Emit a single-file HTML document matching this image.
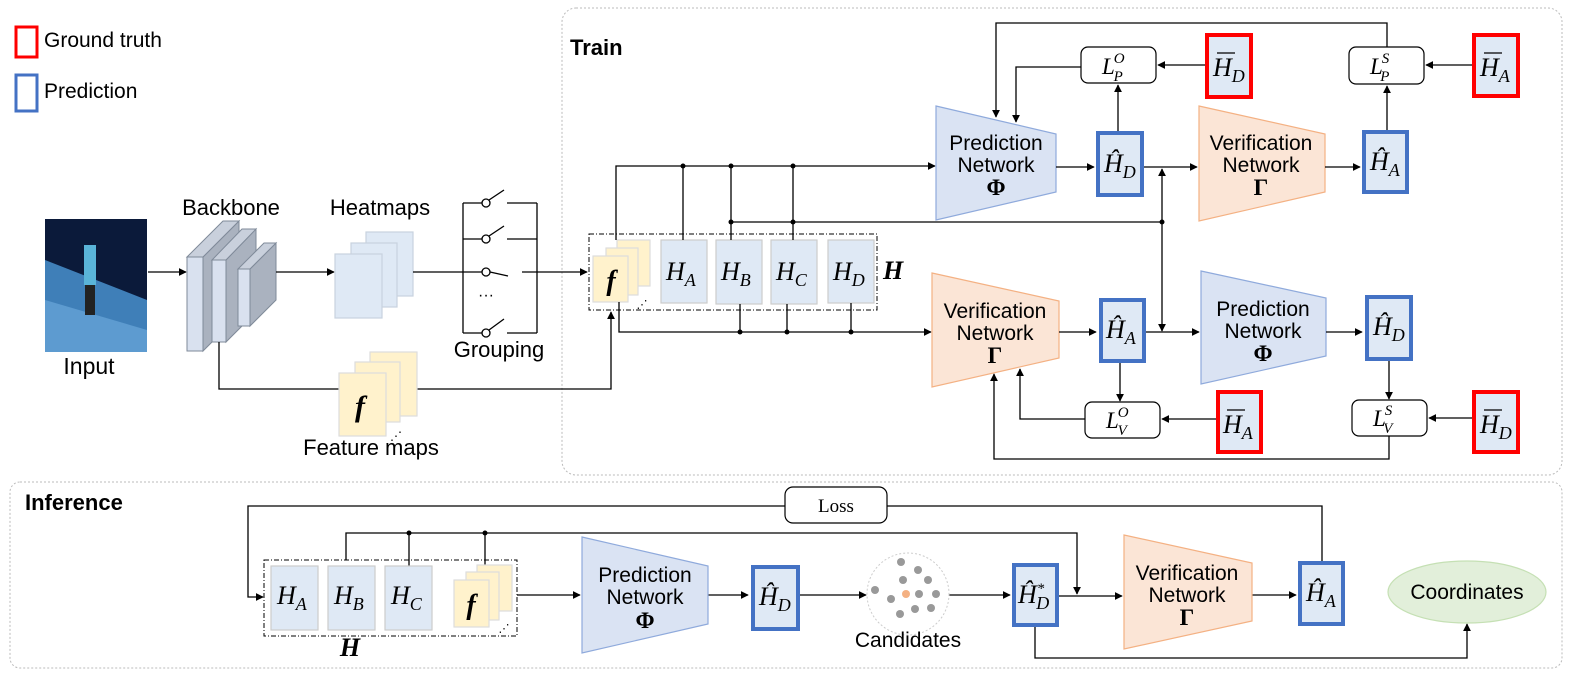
<!DOCTYPE html>
<html><head><meta charset="utf-8"><style>
html,body{margin:0;padding:0;background:#fff;}
svg{display:block;}
.s{font-family:"Liberation Sans",sans-serif;}
.m{font-family:"Liberation Serif",serif;font-style:italic;}
</style></head><body>
<svg width="1577" height="680" viewBox="0 0 1577 680" xmlns="http://www.w3.org/2000/svg">
<defs>
<marker id="a" viewBox="0 0 10 10" refX="9" refY="5" markerWidth="8" markerHeight="8" orient="auto-start-reverse" markerUnits="userSpaceOnUse"><path d="M0,0L10,5L0,10z" fill="#000"/></marker>
</defs>
<g fill="none" stroke="#000" stroke-width="1.3">
<rect x="562" y="8" width="1000" height="467" rx="14" stroke="#bbb" stroke-dasharray="2,2" stroke-width="1"/>
<rect x="10" y="482" width="1552" height="186" rx="10" stroke="#bbb" stroke-dasharray="2,2" stroke-width="1"/>
</g>
<rect x="16" y="27" width="21" height="30" fill="none" stroke="#f00" stroke-width="3"/>
<text x="44" y="47" class="s" font-size="21">Ground truth</text>
<rect x="16" y="75" width="21" height="36" fill="none" stroke="#4472c4" stroke-width="3"/>
<text x="44" y="98" class="s" font-size="21">Prediction</text>

<rect x="45" y="219" width="102" height="133" fill="#0b1a3a"/>
<polygon points="45,260 147,300 147,352 45,352" fill="#3f7fb8"/>
<polygon points="45,300 147,330 147,352 45,352" fill="#5d9bd0"/>
<rect x="84" y="245" width="12" height="40" fill="#5ab4d8"/>
<rect x="85" y="285" width="10" height="30" fill="#222"/>
<text x="89" y="374" class="s" font-size="23" text-anchor="middle">Input</text>
<line x1="148" y1="272" x2="186" y2="272" stroke="#000" stroke-width="1.3" marker-end="url(#a)"/>

<g stroke="#7f8a99" stroke-width="1">
<polygon points="203,257 239,221 239,315 203,351" fill="#aab2bf"/>
<polygon points="187,257 223,221 239,221 203,257" fill="#c9d0dc"/>
<rect x="187" y="257" width="16" height="94" fill="#d9e1ef"/>
<polygon points="226,260 256,229 256,312 226,342" fill="#aab2bf"/>
<polygon points="212,260 242,229 256,229 226,260" fill="#c9d0dc"/>
<rect x="212" y="260" width="14" height="82" fill="#d9e1ef"/>
<polygon points="250,269 276,243 276,300 250,326" fill="#aab2bf"/>
<polygon points="238,269 264,243 276,243 250,269" fill="#c9d0dc"/>
<rect x="238" y="269" width="12" height="57" fill="#d9e1ef"/>
</g>
<text x="231" y="215" class="s" font-size="22" text-anchor="middle">Backbone</text>
<line x1="276" y1="272" x2="334" y2="272" stroke="#000" stroke-width="1.3" marker-end="url(#a)"/>

<g stroke="#c8d2de" stroke-width="1.2" fill="#dfe9f5">
<rect x="366" y="232" width="47" height="64"/>
<rect x="351" y="243" width="46" height="64"/>
<rect x="335" y="254" width="47" height="64"/>
</g>
<text x="380" y="215" class="s" font-size="22" text-anchor="middle">Heatmaps</text>

<g stroke="#000" stroke-width="1.3" fill="none">
<line x1="413" y1="272" x2="463" y2="272"/>
<line x1="463" y1="203" x2="463" y2="333"/>
<line x1="537" y1="203" x2="537" y2="333"/>
<line x1="463" y1="203" x2="482" y2="203"/><line x1="507" y1="203" x2="537" y2="203"/>
<line x1="463" y1="239" x2="482" y2="239"/><line x1="507" y1="239" x2="537" y2="239"/>
<line x1="463" y1="272" x2="482" y2="272"/>
<line x1="463" y1="333" x2="482" y2="333"/><line x1="507" y1="333" x2="537" y2="333"/>
<circle cx="486" cy="203" r="4" fill="#fff"/><line x1="489" y1="200" x2="504" y2="190"/>
<circle cx="486" cy="239" r="4" fill="#fff"/><line x1="489" y1="236" x2="504" y2="226"/>
<circle cx="486" cy="272" r="4" fill="#fff"/><line x1="490" y1="272" x2="508" y2="276"/>
<circle cx="486" cy="333" r="4" fill="#fff"/><line x1="489" y1="330" x2="504" y2="319"/>
<line x1="522" y1="272" x2="587" y2="272" marker-end="url(#a)"/>
</g>
<text x="486" y="300" class="s" font-size="16" text-anchor="middle">···</text>
<text x="499" y="357" class="s" font-size="22" text-anchor="middle">Grouping</text>

<polyline points="219,342 219,389 339,389" fill="none" stroke="#000" stroke-width="1.3"/>
<polyline points="417,389 611,389 611,312" fill="none" stroke="#000" stroke-width="1.3" marker-end="url(#a)"/>
<g stroke="#ddd" stroke-width="1.2" fill="#fff2cc">
<rect x="370" y="352" width="47" height="64"/>
<rect x="355" y="362" width="45" height="60"/>
<rect x="339" y="373" width="47" height="63"/>
</g>
<text x="360" y="416" font-family="Liberation Serif,serif" font-style="italic" font-weight="bold" font-size="30" text-anchor="middle">f</text>
<text x="396" y="440" font-size="12" text-anchor="middle">⋰</text>
<text x="371" y="455" class="s" font-size="22" text-anchor="middle">Feature maps</text>

<text x="570" y="55" class="s" font-size="22" font-weight="bold">Train</text>
<rect x="589" y="234" width="288" height="76" fill="none" stroke="#000" stroke-width="1" stroke-dasharray="5,2,1,2"/>
<g stroke="#ddd" stroke-width="1.2" fill="#fff2cc">
<rect x="617" y="240" width="33" height="46"/>
<rect x="606" y="248" width="32" height="47"/>
<rect x="593" y="256" width="35" height="46"/>
</g>
<text x="611" y="290" font-family="Liberation Serif,serif" font-style="italic" font-weight="bold" font-size="28" text-anchor="middle">f</text>
<text x="642" y="308" font-size="11" text-anchor="middle">⋰</text>
<g stroke="#ccc" stroke-width="1.2" fill="#dfe9f5">
<rect x="661" y="240" width="46" height="63"/>
<rect x="716" y="240" width="46" height="64"/>
<rect x="771" y="240" width="46" height="64"/>
<rect x="828" y="240" width="46" height="63"/>
</g>
<g class="m" font-size="26">
<text x="666" y="280">H<tspan font-size="18" dy="6">A</tspan></text>
<text x="721" y="280">H<tspan font-size="18" dy="6">B</tspan></text>
<text x="776" y="280">H<tspan font-size="18" dy="6">C</tspan></text>
<text x="833" y="280">H<tspan font-size="18" dy="6">D</tspan></text>
</g>
<text x="883" y="279" font-family="Liberation Serif,serif" font-style="italic" font-weight="bold" font-size="26">H</text>

<g stroke="#000" stroke-width="1.3" fill="none">
<polyline points="616,240 616,166 935,166" marker-end="url(#a)"/>
<line x1="683" y1="166" x2="683" y2="240"/>
<line x1="731" y1="166" x2="731" y2="240"/>
<line x1="793" y1="166" x2="793" y2="240"/>
<line x1="731" y1="222" x2="1162" y2="222"/>
<line x1="1162" y1="222" x2="1162" y2="169" marker-end="url(#a)"/>
<line x1="1162" y1="222" x2="1162" y2="331" marker-end="url(#a)"/>
<polyline points="619,302 619,332 931,332" marker-end="url(#a)"/>
<line x1="740" y1="304" x2="740" y2="332"/>
<line x1="787" y1="304" x2="787" y2="332"/>
<line x1="851" y1="303" x2="851" y2="332"/>
</g>
<g fill="#000">
<circle cx="683" cy="166" r="2.5"/><circle cx="731" cy="166" r="2.5"/><circle cx="793" cy="166" r="2.5"/>
<circle cx="731" cy="222" r="2.5"/><circle cx="793" cy="222" r="2.5"/><circle cx="1162" cy="222" r="2.5"/>
<circle cx="740" cy="332" r="2.5"/><circle cx="787" cy="332" r="2.5"/><circle cx="851" cy="332" r="2.5"/>
</g>

<polygon points="936,106 1056,134 1056,192 936,220" fill="#dae3f3" stroke="#8faadc" stroke-width="1.2"/>
<text class="s" font-size="21" text-anchor="middle"><tspan x="996" y="150">Prediction</tspan><tspan x="996" y="172">Network</tspan></text>
<text x="996" y="195" font-family="Liberation Serif,serif" font-weight="bold" font-size="23" text-anchor="middle">Φ</text>
<polygon points="1199,106 1325,134 1325,192 1199,221" fill="#fbe5d6" stroke="#f4b183" stroke-width="1.2"/>
<text class="s" font-size="21" text-anchor="middle"><tspan x="1261" y="150">Verification</tspan><tspan x="1261" y="172">Network</tspan></text>
<text x="1261" y="195" font-family="Liberation Serif,serif" font-weight="bold" font-size="23" text-anchor="middle">Γ</text>

<g stroke="#000" stroke-width="1.3" fill="none">
<line x1="1056" y1="167" x2="1094" y2="167" marker-end="url(#a)"/>
<line x1="1144" y1="167" x2="1197" y2="167" marker-end="url(#a)"/>
<line x1="1325" y1="167" x2="1360" y2="167" marker-end="url(#a)"/>
<line x1="1205" y1="65" x2="1158" y2="65" marker-end="url(#a)"/>
<line x1="1118" y1="131" x2="1118" y2="85" marker-end="url(#a)"/>
<polyline points="1081,67 1016,67 1016,122" marker-end="url(#a)"/>
<polyline points="1387,47 1387,23 996,23 996,117" marker-end="url(#a)"/>
<line x1="1472" y1="65" x2="1426" y2="65" marker-end="url(#a)"/>
<line x1="1387" y1="130" x2="1387" y2="86" marker-end="url(#a)"/>
</g>
<rect x="1081" y="47" width="75" height="36" rx="7" fill="#fff" stroke="#000" stroke-width="1.2"/>
<text x="1102" y="74" class="m" font-size="23">L<tspan font-size="15" dx="-1" dy="-11">O</tspan><tspan font-size="15" dx="-11" dy="18">P</tspan></text>
<rect x="1349" y="47" width="75" height="37" rx="7" fill="#fff" stroke="#000" stroke-width="1.2"/>
<text x="1370" y="74" class="m" font-size="23">L<tspan font-size="15" dx="-1" dy="-11">S</tspan><tspan font-size="15" dx="-9" dy="18">P</tspan></text>

<rect x="1098" y="133" width="44" height="62" fill="#dfe9f5" stroke="#4472c4" stroke-width="4"/>
<text x="1104" y="172" class="m" font-size="26">Ĥ<tspan font-size="18" dy="6">D</tspan></text>
<rect x="1364" y="132" width="43" height="60" fill="#dfe9f5" stroke="#4472c4" stroke-width="4"/>
<text x="1370" y="170" class="m" font-size="26">Ĥ<tspan font-size="18" dy="6">A</tspan></text>
<rect x="1207" y="35" width="44" height="62" fill="#dfe9f5" stroke="#f00" stroke-width="4"/>
<line x1="1217" y1="53" x2="1235" y2="53" stroke="#000" stroke-width="1.2"/>
<text x="1213" y="76" class="m" font-size="26">H<tspan font-size="18" dy="6">D</tspan></text>
<rect x="1474" y="35" width="44" height="61" fill="#dfe9f5" stroke="#f00" stroke-width="4"/>
<line x1="1484" y1="53" x2="1502" y2="53" stroke="#000" stroke-width="1.2"/>
<text x="1480" y="76" class="m" font-size="26">H<tspan font-size="18" dy="6">A</tspan></text>

<polygon points="932,273 1059,301 1059,358 932,387" fill="#fbe5d6" stroke="#f4b183" stroke-width="1.2"/>
<text class="s" font-size="21" text-anchor="middle"><tspan x="995" y="318">Verification</tspan><tspan x="995" y="340">Network</tspan></text>
<text x="995" y="363" font-family="Liberation Serif,serif" font-weight="bold" font-size="23" text-anchor="middle">Γ</text>
<polygon points="1201,271 1326,298 1326,356 1201,384" fill="#dae3f3" stroke="#8faadc" stroke-width="1.2"/>
<text class="s" font-size="21" text-anchor="middle"><tspan x="1263" y="316">Prediction</tspan><tspan x="1263" y="338">Network</tspan></text>
<text x="1263" y="361" font-family="Liberation Serif,serif" font-weight="bold" font-size="23" text-anchor="middle">Φ</text>
<g stroke="#000" stroke-width="1.3" fill="none">
<line x1="1059" y1="332" x2="1096" y2="332" marker-end="url(#a)"/>
<line x1="1146" y1="332" x2="1199" y2="332" marker-end="url(#a)"/>
<line x1="1326" y1="332" x2="1362" y2="332" marker-end="url(#a)"/>
<line x1="1120" y1="363" x2="1120" y2="401" marker-end="url(#a)"/>
<line x1="1216" y1="419" x2="1162" y2="419" marker-end="url(#a)"/>
<polyline points="1085,419 1020,419 1020,369" marker-end="url(#a)"/>
<line x1="1389" y1="361" x2="1389" y2="399" marker-end="url(#a)"/>
<line x1="1472" y1="418" x2="1429" y2="418" marker-end="url(#a)"/>
<polyline points="1389,436 1389,459 994,459 994,374" marker-end="url(#a)"/>
</g>
<rect x="1085" y="402" width="75" height="36" rx="7" fill="#fff" stroke="#000" stroke-width="1.2"/>
<text x="1106" y="428" class="m" font-size="23">L<tspan font-size="15" dx="-1" dy="-11">O</tspan><tspan font-size="15" dx="-11" dy="18">V</tspan></text>
<rect x="1352" y="400" width="75" height="36" rx="7" fill="#fff" stroke="#000" stroke-width="1.2"/>
<text x="1373" y="426" class="m" font-size="23">L<tspan font-size="15" dx="-1" dy="-11">S</tspan><tspan font-size="15" dx="-9" dy="18">V</tspan></text>
<rect x="1101" y="300" width="43" height="61" fill="#dfe9f5" stroke="#4472c4" stroke-width="4"/>
<text x="1106" y="338" class="m" font-size="26">Ĥ<tspan font-size="18" dy="6">A</tspan></text>
<rect x="1367" y="297" width="44" height="62" fill="#dfe9f5" stroke="#4472c4" stroke-width="4"/>
<text x="1373" y="335" class="m" font-size="26">Ĥ<tspan font-size="18" dy="6">D</tspan></text>
<rect x="1218" y="392" width="43" height="60" fill="#dfe9f5" stroke="#f00" stroke-width="4"/>
<line x1="1227" y1="410" x2="1245" y2="410" stroke="#000" stroke-width="1.2"/>
<text x="1223" y="433" class="m" font-size="26">H<tspan font-size="18" dy="6">A</tspan></text>
<rect x="1474" y="392" width="44" height="60" fill="#dfe9f5" stroke="#f00" stroke-width="4"/>
<line x1="1484" y1="410" x2="1502" y2="410" stroke="#000" stroke-width="1.2"/>
<text x="1480" y="433" class="m" font-size="26">H<tspan font-size="18" dy="6">D</tspan></text>

<text x="25" y="510" class="s" font-size="22" font-weight="bold">Inference</text>
<g stroke="#000" stroke-width="1.3" fill="none">
<polyline points="785,506 248,506 248,597 263,597" marker-end="url(#a)"/>
<polyline points="887,506 1322,506 1322,561"/>
<polyline points="346,560 346,533 1077,533 1077,594" marker-end="url(#a)"/>
<line x1="409" y1="533" x2="409" y2="566"/>
<line x1="485" y1="533" x2="485" y2="565"/>
<line x1="517" y1="595" x2="580" y2="595" marker-end="url(#a)"/>
<line x1="708" y1="595" x2="748" y2="595" marker-end="url(#a)"/>
<line x1="800" y1="595" x2="866" y2="595" marker-end="url(#a)"/>
<line x1="949" y1="595" x2="1010" y2="595" marker-end="url(#a)"/>
<line x1="1059" y1="596" x2="1122" y2="596" marker-end="url(#a)"/>
<line x1="1252" y1="595" x2="1296" y2="595" marker-end="url(#a)"/>
<polyline points="1035,627 1035,658 1467,658 1467,624" marker-end="url(#a)"/>
</g>
<circle cx="409" cy="533" r="2.5"/><circle cx="485" cy="533" r="2.5"/>
<rect x="785" y="487" width="102" height="36" rx="8" fill="#fff" stroke="#000" stroke-width="1.2"/>
<text x="836" y="512" font-family="Liberation Serif,serif" font-size="19" text-anchor="middle">Loss</text>
<rect x="264" y="560" width="253" height="76" fill="none" stroke="#000" stroke-width="1" stroke-dasharray="5,2,1,2"/>
<g stroke="#ccc" stroke-width="1.2" fill="#dfe9f5">
<rect x="271" y="566" width="47" height="64"/>
<rect x="328" y="566" width="47" height="64"/>
<rect x="385" y="566" width="47" height="64"/>
</g>
<g class="m" font-size="26">
<text x="277" y="604">H<tspan font-size="18" dy="6">A</tspan></text>
<text x="334" y="604">H<tspan font-size="18" dy="6">B</tspan></text>
<text x="391" y="604">H<tspan font-size="18" dy="6">C</tspan></text>
</g>
<g stroke="#ddd" stroke-width="1.2" fill="#fff2cc">
<rect x="477" y="565" width="35" height="46"/>
<rect x="466" y="572" width="33" height="48"/>
<rect x="454" y="580" width="35" height="47"/>
</g>
<text x="471" y="614" font-family="Liberation Serif,serif" font-style="italic" font-weight="bold" font-size="28" text-anchor="middle">f</text>
<text x="504" y="632" font-size="11" text-anchor="middle">⋰</text>
<text x="350" y="656" font-family="Liberation Serif,serif" font-style="italic" font-weight="bold" font-size="26" text-anchor="middle">H</text>

<polygon points="582,537 708,566 708,624 582,653" fill="#dae3f3" stroke="#8faadc" stroke-width="1.2"/>
<text class="s" font-size="21" text-anchor="middle"><tspan x="645" y="582">Prediction</tspan><tspan x="645" y="604">Network</tspan></text>
<text x="645" y="628" font-family="Liberation Serif,serif" font-weight="bold" font-size="23" text-anchor="middle">Φ</text>
<rect x="753" y="567" width="45" height="62" fill="#dfe9f5" stroke="#4472c4" stroke-width="4"/>
<text x="759" y="605" class="m" font-size="26">Ĥ<tspan font-size="18" dy="6">D</tspan></text>

<circle cx="908" cy="594" r="41" fill="#fff" stroke="#ccc" stroke-width="1" stroke-dasharray="2,2"/>
<g fill="#999">
<circle cx="901" cy="562" r="4"/><circle cx="918" cy="570" r="4"/><circle cx="903" cy="580" r="4"/>
<circle cx="928" cy="580" r="4"/><circle cx="875" cy="590" r="4"/><circle cx="891" cy="599" r="4"/>
<circle cx="919" cy="594" r="4"/><circle cx="936" cy="594" r="4"/><circle cx="900" cy="614" r="4"/>
<circle cx="915" cy="609" r="4"/><circle cx="931" cy="608" r="4"/>
</g>
<circle cx="906" cy="594" r="4" fill="#f4b183"/>
<text x="908" y="647" class="s" font-size="21" text-anchor="middle">Candidates</text>

<rect x="1014" y="565" width="43" height="60" fill="#dfe9f5" stroke="#4472c4" stroke-width="4"/>
<text x="1018" y="603" class="m" font-size="26">Ĥ<tspan font-size="15" dy="-10">*</tspan><tspan font-size="18" dx="-8" dy="16">D</tspan></text>

<polygon points="1124,535 1252,563 1252,621 1124,649" fill="#fbe5d6" stroke="#f4b183" stroke-width="1.2"/>
<text class="s" font-size="21" text-anchor="middle"><tspan x="1187" y="580">Verification</tspan><tspan x="1187" y="602">Network</tspan></text>
<text x="1187" y="625" font-family="Liberation Serif,serif" font-weight="bold" font-size="23" text-anchor="middle">Γ</text>
<rect x="1300" y="563" width="43" height="61" fill="#dfe9f5" stroke="#4472c4" stroke-width="4"/>
<text x="1306" y="601" class="m" font-size="26">Ĥ<tspan font-size="18" dy="6">A</tspan></text>

<ellipse cx="1467" cy="592" rx="79" ry="31" fill="#e2efda" stroke="#c5e0b4" stroke-width="1.2"/>
<text x="1467" y="599" class="s" font-size="21" text-anchor="middle">Coordinates</text>
</svg>
</body></html>
